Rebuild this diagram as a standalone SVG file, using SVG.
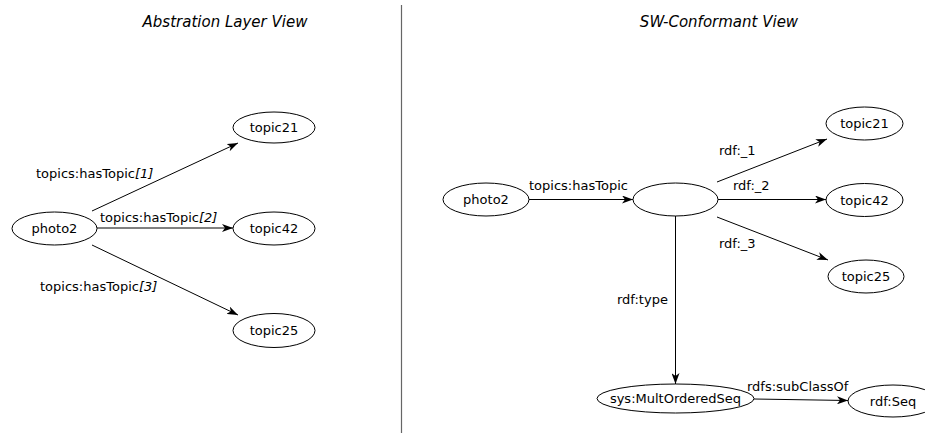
<svg xmlns="http://www.w3.org/2000/svg" width="925" height="434" viewBox="0 0 925 434">
  <style>
    .node ellipse { fill: #ffffff; stroke: #000000; stroke-width: 1; }
    .node text, .lbl { font-family: "DejaVu Sans", sans-serif; font-size: 13px; fill: #000000; }
    .node text { text-anchor: middle; }
    .edge { stroke: #000000; stroke-width: 1; fill: none; marker-end: url(#arrow); }
    .title { font-family: "DejaVu Sans", sans-serif; font-size: 15px; font-style: italic; text-anchor: middle; fill: #000000; }
    .idx { font-style: italic; }
  </style>
  <defs>
    <marker id="arrow" markerUnits="userSpaceOnUse" markerWidth="12" markerHeight="8" refX="11" refY="4" orient="auto">
      <path d="M0,0 L11,4 L0,8 L3,4 z" fill="#000000"/>
    </marker>
  </defs>
  <rect width="925" height="434" fill="#ffffff"/>

  <!-- view titles and divider -->
  <text class="title" x="225" y="27">Abstration Layer View</text>
  <text class="title" x="719" y="27">SW-Conformant View</text>
  <line x1="401.5" y1="5" x2="401.5" y2="433" stroke="#666666" stroke-width="1.2"/>

  <!-- connectors -->
  <g id="connectors">
    <line class="edge" x1="92" y1="211" x2="238" y2="143"/>
    <line class="edge" x1="97" y1="228" x2="233" y2="228"/>
    <line class="edge" x1="92" y1="245" x2="238" y2="315"/>
    <line class="edge" x1="529" y1="199.5" x2="633" y2="199.5"/>
    <line class="edge" x1="717" y1="182" x2="827" y2="139"/>
    <line class="edge" x1="718" y1="199.5" x2="826" y2="199.5"/>
    <line class="edge" x1="717" y1="217" x2="828" y2="260"/>
    <line class="edge" x1="675.5" y1="216" x2="675.5" y2="384"/>
    <line class="edge" x1="754" y1="399" x2="848" y2="400.5"/>

    <text class="lbl" x="36" y="178">topics:hasTopic<tspan class="idx">[1]</tspan></text>
    <text class="lbl" x="100" y="222">topics:hasTopic<tspan class="idx">[2]</tspan></text>
    <text class="lbl" x="40" y="291">topics:hasTopic<tspan class="idx">[3]</tspan></text>
    <text class="lbl" x="529" y="190">topics:hasTopic</text>
    <text class="lbl" x="719" y="155">rdf:_1</text>
    <text class="lbl" x="733" y="190">rdf:_2</text>
    <text class="lbl" x="719" y="248">rdf:_3</text>
    <text class="lbl" x="617" y="304">rdf:type</text>
    <text class="lbl" x="747" y="391">rdfs:subClassOf</text>
  </g>

  <!-- abstraction layer view nodes -->
  <g id="a-photo2" class="node"><ellipse cx="54.5" cy="228.5" rx="42.5" ry="16.5"/><text x="54.5" y="233">photo2</text></g>
  <g id="a-topic21" class="node"><ellipse cx="274" cy="127.5" rx="41" ry="15.5"/><text x="274" y="132">topic21</text></g>
  <g id="a-topic42" class="node"><ellipse cx="274" cy="228.5" rx="41" ry="16.5"/><text x="274" y="233">topic42</text></g>
  <g id="a-topic25" class="node"><ellipse cx="274" cy="330.5" rx="41" ry="17"/><text x="274" y="335">topic25</text></g>

  <!-- SW-conformant view nodes -->
  <g id="s-photo2" class="node"><ellipse cx="486" cy="199.5" rx="43" ry="16.5"/><text x="486" y="204">photo2</text></g>
  <g id="s-seq" class="node"><ellipse cx="675.5" cy="199.5" rx="42.5" ry="16.5"/></g>
  <g id="s-topic21" class="node"><ellipse cx="864.5" cy="123.5" rx="38.5" ry="16.5"/><text x="864.5" y="128">topic21</text></g>
  <g id="s-topic42" class="node"><ellipse cx="864.5" cy="200" rx="38.5" ry="16.5"/><text x="864.5" y="204.5">topic42</text></g>
  <g id="s-topic25" class="node"><ellipse cx="866" cy="276.5" rx="38" ry="16.5"/><text x="866" y="281">topic25</text></g>
  <g id="s-multseq" class="node"><ellipse cx="675.5" cy="398.5" rx="78.5" ry="14.5"/><text x="675.5" y="403">sys:MultOrderedSeq</text></g>
  <g id="s-rdfseq" class="node"><ellipse cx="893" cy="401" rx="45" ry="16"/><text x="893" y="405.5">rdf:Seq</text></g>
</svg>
